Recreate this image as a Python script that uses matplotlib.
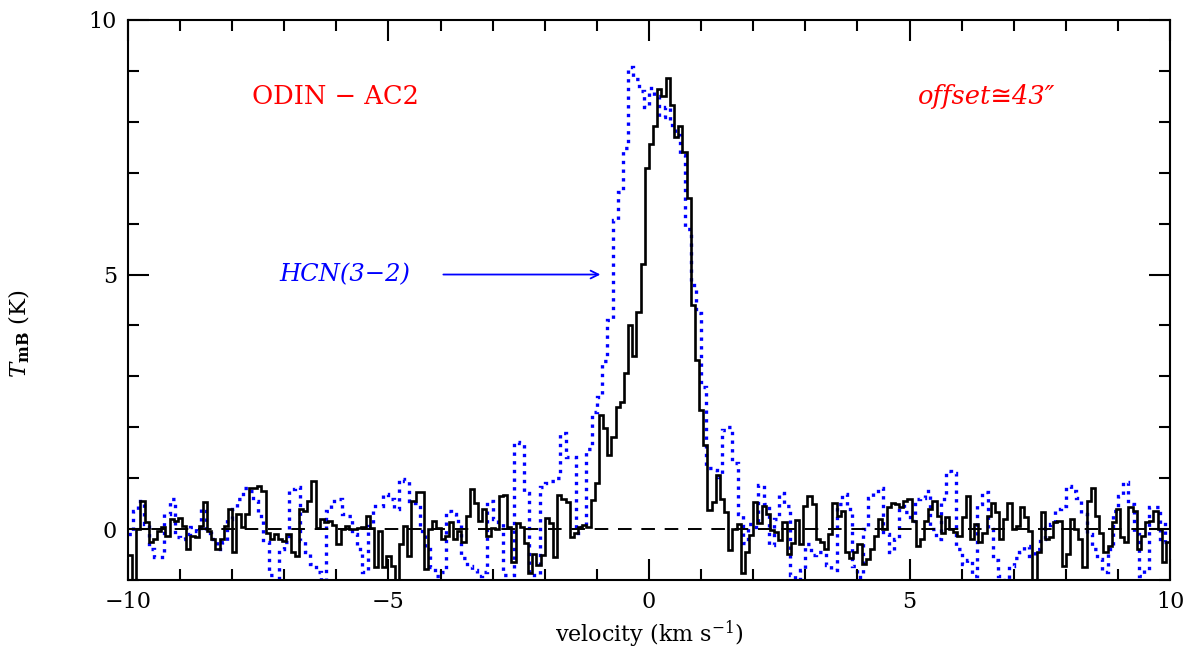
import numpy as np
import matplotlib
matplotlib.use("Agg")
import matplotlib.pyplot as plt
from matplotlib.ticker import MultipleLocator

# ---- data ----
v_start = -10.0
v_end = 10.0

# ODIN AC2 spectrum (black, solid), channel width 0.08 km/s
odin_tmb = [
    -0.5, -1.2, 0.0, 0.55, 0.13, -0.26, -0.2, -0.03, 0.05, -0.13,
    0.2, 0.16, 0.22, 0.07, -0.4, -0.13, -0.16, 0.06, 0.54, -0.03,
    -0.2, -0.39, -0.2, 0.07, 0.39, -0.46, 0.29, 0.05, 0.29, 0.8,
    0.8, 0.85, 0.75, -0.07, -0.2, -0.1, -0.2, -0.23, -0.1, -0.46,
    -0.52, 0.39, 0.36, 0.55, 0.95, 0.03, 0.2, 0.13, 0.16, 0.08,
    -0.3, 0.0, 0.07, 0.0, 0.0, 0.03, 0.05, 0.26, 0.03, -0.75,
    -0.03, -0.75, -0.52, -0.72, -1.2, -0.3, 0.07, -0.52, 0.55, 0.72,
    0.72, -0.78, 0.0, 0.16, 0.03, -0.2, -0.13, 0.13, -0.2, -0.03,
    -0.26, 0.26, 0.78, 0.52, 0.16, 0.39, -0.13, 0.03, 0.0, 0.65,
    0.67, 0.05, -0.64, 0.11, 0.05, -0.28, -0.87, -0.48, -0.7, -0.5,
    0.21, 0.11, -0.54, 0.67, 0.6, 0.54, -0.15, -0.08, 0.05, 0.08,
    0.05, 0.57, 0.9, 2.24, 1.98, 1.45, 1.8, 2.4, 2.5, 3.06,
    4.0, 3.4, 4.27, 5.2, 7.09, 7.56, 7.92, 8.64, 8.5, 8.87,
    8.33, 7.7, 7.92, 7.41, 6.5, 4.4, 3.32, 2.34, 1.65, 0.37,
    0.54, 1.06, 0.6, 0.34, -0.41, 0.0, 0.1, -0.86, -0.45, -0.12,
    0.54, 0.11, 0.45, 0.3, -0.02, -0.05, -0.22, 0.14, -0.48, -0.28,
    0.18, -0.3, 0.45, 0.65, 0.5, -0.2, -0.26, -0.39, -0.1, 0.52,
    0.26, 0.36, -0.46, -0.56, -0.46, -0.29, -0.69, -0.59, -0.39, -0.13,
    0.2, 0.0, 0.43, 0.52, 0.49, 0.43, 0.56, 0.59, 0.16, -0.33,
    -0.2, 0.16, 0.39, 0.56, 0.26, -0.07, 0.23, 0.0, -0.05, -0.13,
    0.23, 0.65, -0.2, 0.1, -0.26, -0.07, 0.26, 0.52, 0.33, -0.2,
    0.2, 0.52, 0.0, 0.07, 0.43, 0.23, -0.03, -1.2, -0.46, 0.33,
    -0.2, -0.16, 0.13, 0.16, -0.72, -0.49, 0.2, 0.0, -0.2, -0.75,
    0.56, 0.8, 0.26, -0.07, -0.46, -0.33, 0.13, 0.39, -0.16, -0.26,
    0.43, 0.36, -0.39, -0.13, 0.13, 0.16, 0.36, 0.0, -0.65, -0.26,
]

# HCN(3-2) spectrum (blue, dotted), channel width 0.1 km/s
hcn_tmb = [
    -0.1, 0.35, 0.55, 0.1, -0.4, -0.55, -0.55, 0.3, 0.59, -0.16,
    -0.2, -0.1, 0.05, -0.03, 0.39, -0.07, -0.2, -0.39, -0.26, 0.2,
    0.4, 0.6, 0.8, 0.75, 0.55, 0.25, -0.25, -0.9, -1.2, -0.4,
    -0.25, 0.79, 0.82, -0.23, -0.46, -0.69, -0.85, -1.2, 0.36, 0.56,
    0.59, 0.3, 0.25, -0.1, -0.4, -0.85, 0.07, 0.45, 0.46, 0.69,
    0.6, 0.39, 0.98, 0.95, 0.55, 0.52, -0.03, -0.4, -0.75, -0.92,
    -0.85, 0.36, 0.3, 0.15, -0.56, -0.72, -0.8, -0.92, -0.85, 0.56,
    0.2, 0.13, -0.9, -0.9, 1.72, 1.7, 0.7, -0.9, -0.9, 0.83,
    0.9, 0.95, 1.0, 1.88, 1.42, 1.42, -0.08, 0.05, 1.58, 2.3,
    2.6, 3.3, 4.1, 6.07, 6.63, 7.48, 9.08, 8.85, 8.6, 8.3,
    8.66, 8.5, 8.1, 8.3, 7.94, 7.74, 7.35, 5.9, 4.8, 4.25,
    2.8, 1.2, 1.16, 1.03, 1.95, 2.0, 1.3, 0.3, -0.28, 0.1,
    0.05, 0.86, 0.5, -0.31, 0.2, 0.7, 0.45, -0.9, -1.0, -0.8,
    -0.3, -0.5, -0.46, -0.45, -0.7, -0.8, 0.5, 0.69, 0.4, -0.72,
    -0.95, 0.0, 0.62, 0.7, 0.8, -0.1, -0.45, -0.2, 0.45, 0.33,
    0.16, 0.6, 0.62, 0.75, 0.0, -0.2, 0.6, 1.15, 1.1, -0.4,
    -0.69, -0.6, -0.92, 0.5, 0.72, 0.0, -0.6, -0.92, -1.0, -0.72,
    -0.56, -0.45, -0.33, -0.52, -0.39, -0.2, 0.03, 0.1, 0.39, 0.46,
    0.85, 0.75, 0.62, 0.3, -0.1, -0.39, -0.59, -0.85, -0.4, 0.36,
    0.65, 0.92, 0.5, -0.1, -0.92, -0.8, 0.43, 0.43, -0.26, 0.16,
]

odin_edges = np.linspace(v_start, v_end, len(odin_tmb) + 1)
hcn_edges = np.linspace(v_start, v_end, len(hcn_tmb) + 1)

# ---- figure ----
plt.rcParams['font.family'] = ['DejaVu Serif', 'DejaVu Sans']
plt.rcParams['mathtext.fontset'] = 'dejavuserif'

fig = plt.figure(figsize=(11.87, 6.51), dpi=100)
ax = fig.add_axes([0.1078, 0.1091, 0.8779, 0.8602])

ax.stairs(hcn_tmb, hcn_edges, baseline=None, color='#0000ff',
          linestyle=(0, (1, 1.6)), linewidth=2.4)
ax.stairs(odin_tmb, odin_edges, baseline=None, color='black',
          linewidth=1.9)
ax.axhline(0, color='black', linestyle=(0, (7, 5)), linewidth=1.4)

ax.set_xlim(-10, 10)
ax.set_ylim(-1, 10)

ax.xaxis.set_major_locator(MultipleLocator(5))
ax.xaxis.set_minor_locator(MultipleLocator(1))
ax.yaxis.set_major_locator(MultipleLocator(5))
ax.yaxis.set_minor_locator(MultipleLocator(1))
ax.tick_params(which='both', direction='in', top=True, right=True,
               width=1.5, labelsize=16)
ax.tick_params(which='major', length=15, pad=8)
ax.tick_params(which='minor', length=8)
for s in ax.spines.values():
    s.set_linewidth(1.5)

ax.set_xlabel('velocity (km s$^{-1}$)', fontsize=16, labelpad=4)
ax.set_ylabel(r'$T_{\mathbf{mB}}$ (K)', fontsize=16.5)
ax.yaxis.set_label_coords(-0.092, 0.44)

ax.text(-7.62, 8.5, 'ODIN \u2212 AC2', color='red', fontsize=18.5,
        ha='left', va='center')
ax.text(7.8, 8.5, 'offset\u224543\u2033', color='red', fontsize=18.5,
        ha='right', va='center', style='italic',
        family=['DejaVu Serif', 'DejaVu Sans'])
ax.text(-7.1, 5.0, 'HCN(3\u22122)', color='#0000ff', fontsize=17.5,
        ha='left', va='center', style='italic')
ax.annotate('', xy=(-0.88, 5.0), xytext=(-4.0, 5.0),
            arrowprops=dict(arrowstyle='->', color='#0000ff', lw=1.3,
                            mutation_scale=14))

fig.savefig('out.png', dpi=100)
